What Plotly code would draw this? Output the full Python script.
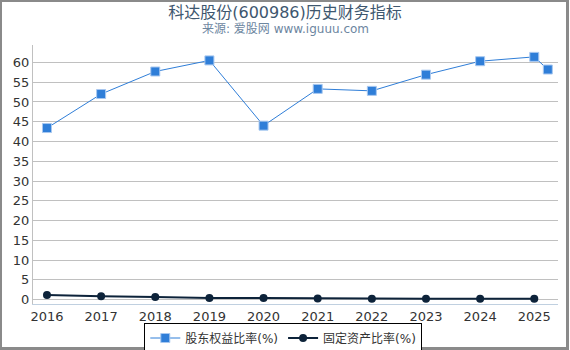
import plotly.graph_objects as go

years = [2016, 2017, 2018, 2019, 2020, 2021, 2022, 2023, 2024, 2025, 2025.25]
equity_ratio = [43.4, 52.0, 57.7, 60.5, 44.0, 53.3, 52.8, 56.9, 60.3, 61.4, 58.2]
fixed_years = [2016, 2017, 2018, 2019, 2020, 2021, 2022, 2023, 2024, 2025]
fixed_ratio = [1.2, 0.85, 0.7, 0.4, 0.4, 0.3, 0.25, 0.2, 0.2, 0.2]
tick_years = [2016, 2017, 2018, 2019, 2020, 2021, 2022, 2023, 2024, 2025]
y_ticks = list(range(0, 65, 5))

W, H = 570, 350
L, R, T, B = 33, 12, 45, 46
pw, ph = W - L - R, H - T - B

font_fam = "DejaVu Sans, Noto Sans CJK SC, sans-serif"

fig = go.Figure()
fig.add_trace(go.Scatter(
    x=years, y=equity_ratio, name="股东权益比率(%)", mode="lines+markers",
    line=dict(color="#2f7ed8", width=1),
    marker=dict(symbol="square", size=9, color="#2f7ed8", line=dict(color="#a8c8f0", width=1)),
))
fig.add_trace(go.Scatter(
    x=fixed_years, y=fixed_ratio, name="固定资产比率(%)", mode="lines+markers",
    line=dict(color="#0d233a", width=2),
    marker=dict(symbol="circle", size=8, color="#0d233a"),
))

def px2x(p):
    return (p - L) / pw

def py2y(p):
    return (H - B - p) / ph

fig.add_shape(type="rect", xref="paper", yref="paper",
              x0=px2x(0.5), x1=px2x(W - 2.5), y0=py2y(H - 1.5), y1=py2y(0.5),
              line=dict(color="#8a8a8a", width=3), layer="below")

fig.update_layout(
    width=W, height=H,
    margin=dict(l=L, r=R, t=T, b=B, autoexpand=False),
    paper_bgcolor="white", plot_bgcolor="white",
    font=dict(family=font_fam, color="#333333", size=13),
    title=dict(text="科达股份(600986)历史财务指标", x=0.5, xref="container", xanchor="center",
               y=1 - 12 / H, yref="container", yanchor="middle",
               font=dict(size=16, color="#3e576f", family=font_fam)),
    showlegend=True,
    legend=dict(orientation="h", xref="container", x=0.497, xanchor="center",
                yref="container", y=(H - 338) / H, yanchor="middle",
                bordercolor="#000000", borderwidth=1, bgcolor="white",
                font=dict(size=12, color="#333333"),
                itemwidth=30, tracegroupgap=0),
    hovermode=False,
)
fig.add_annotation(text="来源: 爱股网 www.iguuu.com", xref="paper", yref="paper",
                   x=px2x(285), y=py2y(29), xanchor="center", yanchor="middle",
                   showarrow=False, font=dict(size=12, color="#6d869f", family=font_fam))

fig.update_xaxes(range=[2015.742, 2025.438], tickvals=tick_years,
                 ticktext=[str(y) for y in tick_years],
                 showgrid=False, zeroline=False, showline=True, linecolor="#c0d0e0",
                 linewidth=1, ticks="", tickfont=dict(size=13, color="#333333"))
fig.update_yaxes(range=[-1.1, 64.4], tickvals=y_ticks, showgrid=True, gridcolor="#c0c0c0",
                 gridwidth=1, zeroline=False, showline=True, linecolor="#c0c0c0",
                 linewidth=1, ticks="", tickfont=dict(size=13, color="#333333"))

fig.write_html("out.html")
